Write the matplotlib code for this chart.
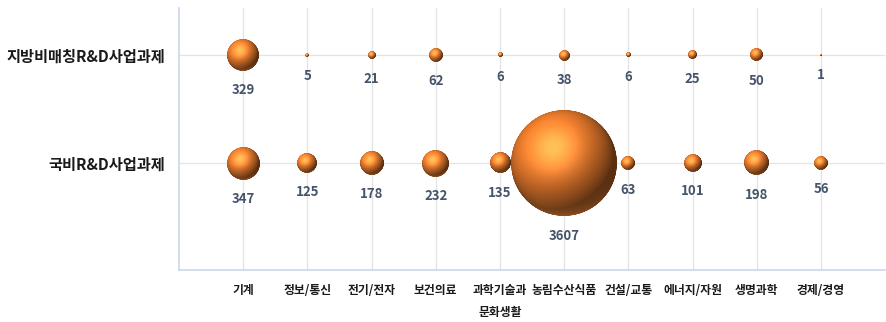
import numpy as np
import matplotlib
matplotlib.use('Agg')
import matplotlib.pyplot as plt
from matplotlib.offsetbox import OffsetImage, AnnotationBbox

plt.rcParams['font.family'] = ['Noto Sans CJK KR', 'DejaVu Sans']

# 분야
categories = ['기계', '정보/통신', '전기/전자', '보건의료', '과학기술과\n문화생활',
              '농림수산식품', '건설/교통', '에너지/자원', '생명과학', '경제/경영']
rows = ['국비R&D사업과제', '지방비매칭R&D사업과제']
national = [347, 125, 178, 232, 135, 3607, 63, 101, 198, 56]
local = [329, 5, 21, 62, 6, 38, 6, 25, 50, 1]

DPI = 100
MAX_D = 106   # 최대 버블 지름(px)
SS = 4        # supersampling


def sphere_image(d_px):
    # 3D 느낌의 주황색 구 이미지
    n = max(int(round(d_px * SS)), 2)
    c = (np.arange(n) + 0.5) / n * 2 - 1
    xx, yy = np.meshgrid(c, -c)
    r2 = xx ** 2 + yy ** 2
    z = np.sqrt(np.clip(1 - r2, 0, 1))
    L = np.array([-0.35, 0.5, 0.8])
    L = L / np.linalg.norm(L)
    diff = np.clip(xx * L[0] + yy * L[1] + z * L[2], 0, 1)
    H = L + np.array([0, 0, 1.0])
    H = H / np.linalg.norm(H)
    spec = np.clip(xx * H[0] + yy * H[1] + z * H[2], 0, 1) ** 10
    rim = np.clip(-yy - 0.2, 0, 1) ** 2 * (1 - z) * 0.35
    base = np.array([0.93, 0.49, 0.18])
    img = np.zeros((n, n, 4))
    for k in range(3):
        img[..., k] = base[k] * (0.38 + 0.72 * diff) + spec * [1.0, 0.85, 0.55][k] * 0.28 \
            + rim * [1.0, 0.65, 0.35][k]
    img[..., :3] = np.clip(img[..., :3], 0, 1)
    edge = np.clip((1 - np.sqrt(r2)) * n / 2 + 0.5, 0, 1)
    img[..., 3] = edge
    return img


fig = plt.figure(figsize=(8.86, 3.22), dpi=DPI)
ax = fig.add_axes([0.202, 0.1615, 0.797, 0.8135])
ax.set_xlim(0, 11)
ax.set_ylim(0.01, 2.435)

x = np.arange(1, len(categories) + 1)
vmax = max(max(national), max(local))

for yv, vals in [(1, national), (2, local)]:
    for xi, v in zip(x, vals):
        d = MAX_D * np.sqrt(v / vmax)
        im = OffsetImage(sphere_image(d), zoom=1.0 / SS, dpi_cor=False)
        ab = AnnotationBbox(im, (xi, yv), frameon=False, pad=0, zorder=3)
        ax.add_artist(ab)
        off = -(d / 2 * 72 / DPI + 14)
        ax.annotate(str(v), (xi, yv), xytext=(0, off), textcoords='offset points',
                    ha='center', va='center', fontsize=9.5, fontweight='bold',
                    color='#44546A', zorder=4)

ax.set_xticks(x)
ax.set_xticklabels(categories, fontsize=8.5, fontweight='bold', color='#1A1A1A')
for lbl in ax.get_xticklabels():
    lbl.set_linespacing(1.9)
ax.set_yticks([1, 2])
ax.set_yticklabels(rows, fontsize=11, fontweight='bold', color='#1A1A1A')
ax.tick_params(axis='x', length=0, pad=10)
ax.tick_params(axis='y', length=0, pad=10)

ax.grid(True, color='#E3E3E3', linewidth=0.9)
ax.set_axisbelow(True)
for s in ['top', 'right']:
    ax.spines[s].set_visible(False)
for s in ['left', 'bottom']:
    ax.spines[s].set_color('#C9D7EA')
    ax.spines[s].set_linewidth(1.2)

fig.savefig('out.png', dpi=DPI)
